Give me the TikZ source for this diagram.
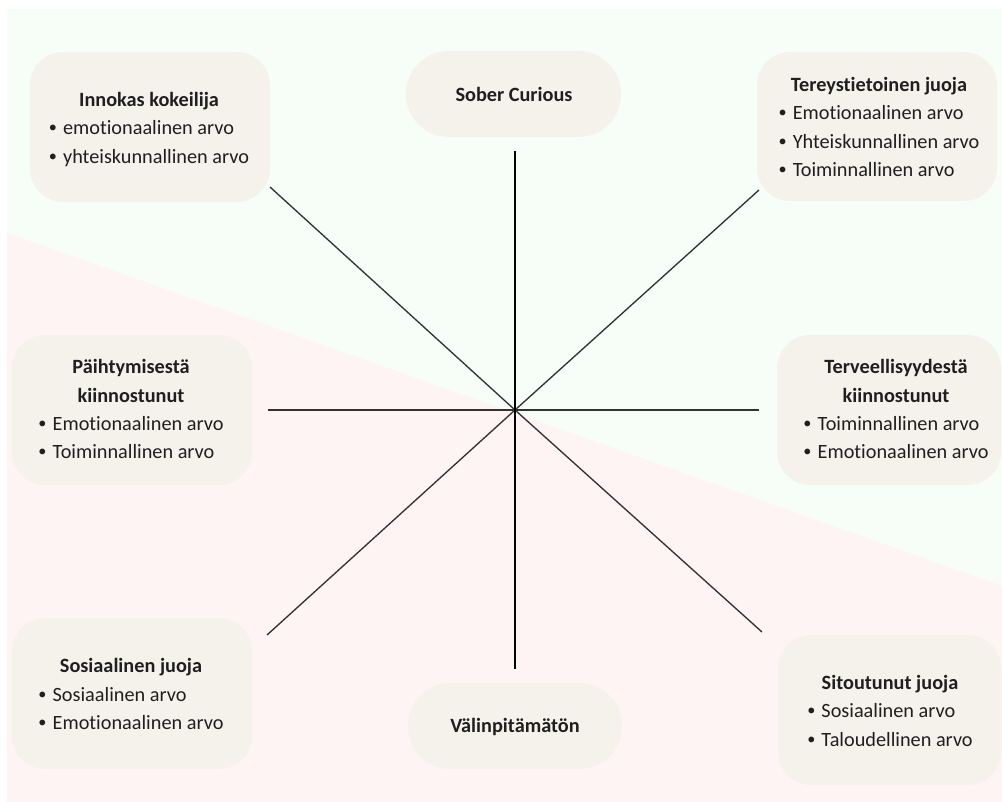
\documentclass[tikz,border=0pt]{standalone}
\usepackage{fontspec}
\setmainfont{Carlito}[Ligatures=NoCommon]
\definecolor{bggreen}{RGB}{246,254,247}
\definecolor{bgpink}{RGB}{254,244,243}
\definecolor{boxfill}{RGB}{245,242,236}
\definecolor{spoke}{RGB}{50,50,50}
\newcommand\bul{\makebox[0.7em][l]{\raisebox{0.1em}{\scalebox{0.8}{\textbullet}}}}
\begin{document}
\begin{tikzpicture}[x=0.75pt,y=-0.75pt,
  box/.style={fill=boxfill, draw=none, rounded corners=25pt, inner sep=0pt},
  pill/.style={fill=boxfill, draw=none, rounded corners=32pt, inner sep=0pt, minimum height=64.5pt},
  txt/.style={align=center, inner sep=0pt, text=black!88,
    font=\fontsize{15.2}{21.3}\selectfont},
  spokeline/.style={draw=spoke, line width=1pt},
  axisline/.style={draw=black, line width=1.6pt}]
\useasboundingbox (0,0) rectangle (1002,802);
% background
\fill[bggreen] (7,9) rectangle (1002,802);
\fill[bgpink] (7,233) -- (1002,586) -- (1002,802) -- (7,802) -- cycle;

% boxes
\node[box, minimum width=180pt, minimum height=112.5pt] (innokasbox) at (150,127) {};
\node[pill, minimum width=161.25pt] (soberbox) at (513.5,94) {};
\node[box, minimum width=180pt, minimum height=111.75pt] (tereybox) at (877,126.5) {};
\node[box, minimum width=180pt, minimum height=112.5pt] (paihtbox) at (132,410) {};
\node[box, minimum width=168pt, minimum height=112.5pt] (tervebox) at (889,410) {};
\node[box, minimum width=180pt, minimum height=113.25pt] (sosiaalbox) at (132,693.5) {};
\node[pill, minimum width=160.5pt] (valinbox) at (515,726) {};
\node[box, minimum width=167.25pt, minimum height=112.5pt] (sitoutbox) at (889.5,710) {};

% texts
\node[txt] (innokas) at (149,132) {\textbf{Innokas kokeilija}\\\begin{tabular}[t]{@{}l@{}}\bul emotionaalinen arvo\\\bul yhteiskunnallinen arvo\end{tabular}};
\node[txt] (sober) at (514,94) {\textbf{Sober Curious}};
\node[txt] (terey) at (879,131) {\textbf{Tereystietoinen juoja}\\\begin{tabular}[t]{@{}l@{}}\bul Emotionaalinen arvo\\\bul Yhteiskunnallinen arvo\\\bul Toiminnallinen arvo\end{tabular}};
\node[txt] (paiht) at (131,413.5) {\textbf{Päihtymisestä}\\\textbf{kiinnostunut}\\\begin{tabular}[t]{@{}l@{}}\bul Emotionaalinen arvo\\\bul Toiminnallinen arvo\end{tabular}};
\node[txt] (terve) at (896,413.5) {\textbf{Terveellisyydestä}\\\textbf{kiinnostunut}\\\begin{tabular}[t]{@{}l@{}}\bul Toiminnallinen arvo\\\bul Emotionaalinen arvo\end{tabular}};
\node[txt] (sosiaal) at (131,698.5) {\textbf{Sosiaalinen juoja}\\\begin{tabular}[t]{@{}l@{}}\bul Sosiaalinen arvo\\\bul Emotionaalinen arvo\end{tabular}};
\node[txt] (valin) at (515,726.5) {\textbf{Välinpitämätön}};
\node[txt] (sitout) at (890,715) {\textbf{Sitoutunut juoja}\\\begin{tabular}[t]{@{}l@{}}\bul Sosiaalinen arvo\\\bul Taloudellinen arvo\end{tabular}};

% spokes
\coordinate (c) at (515,410);
\coordinate (nwend) at (270,187);
\coordinate (neend) at (759,190);
\coordinate (wend) at (268,410);
\coordinate (eend) at (759,410);
\coordinate (swend) at (267,635);
\coordinate (seend) at (762,632);
\coordinate (topend) at (515,151);
\coordinate (botend) at (515,669);
\draw[spokeline] (c) -- (nwend);
\draw[spokeline] (c) -- (neend);
\draw[spokeline] (c) -- (wend);
\draw[spokeline] (c) -- (eend);
\draw[spokeline] (c) -- (swend);
\draw[spokeline] (c) -- (seend);
\draw[axisline] (topend) -- (botend);
\end{tikzpicture}
\end{document}
